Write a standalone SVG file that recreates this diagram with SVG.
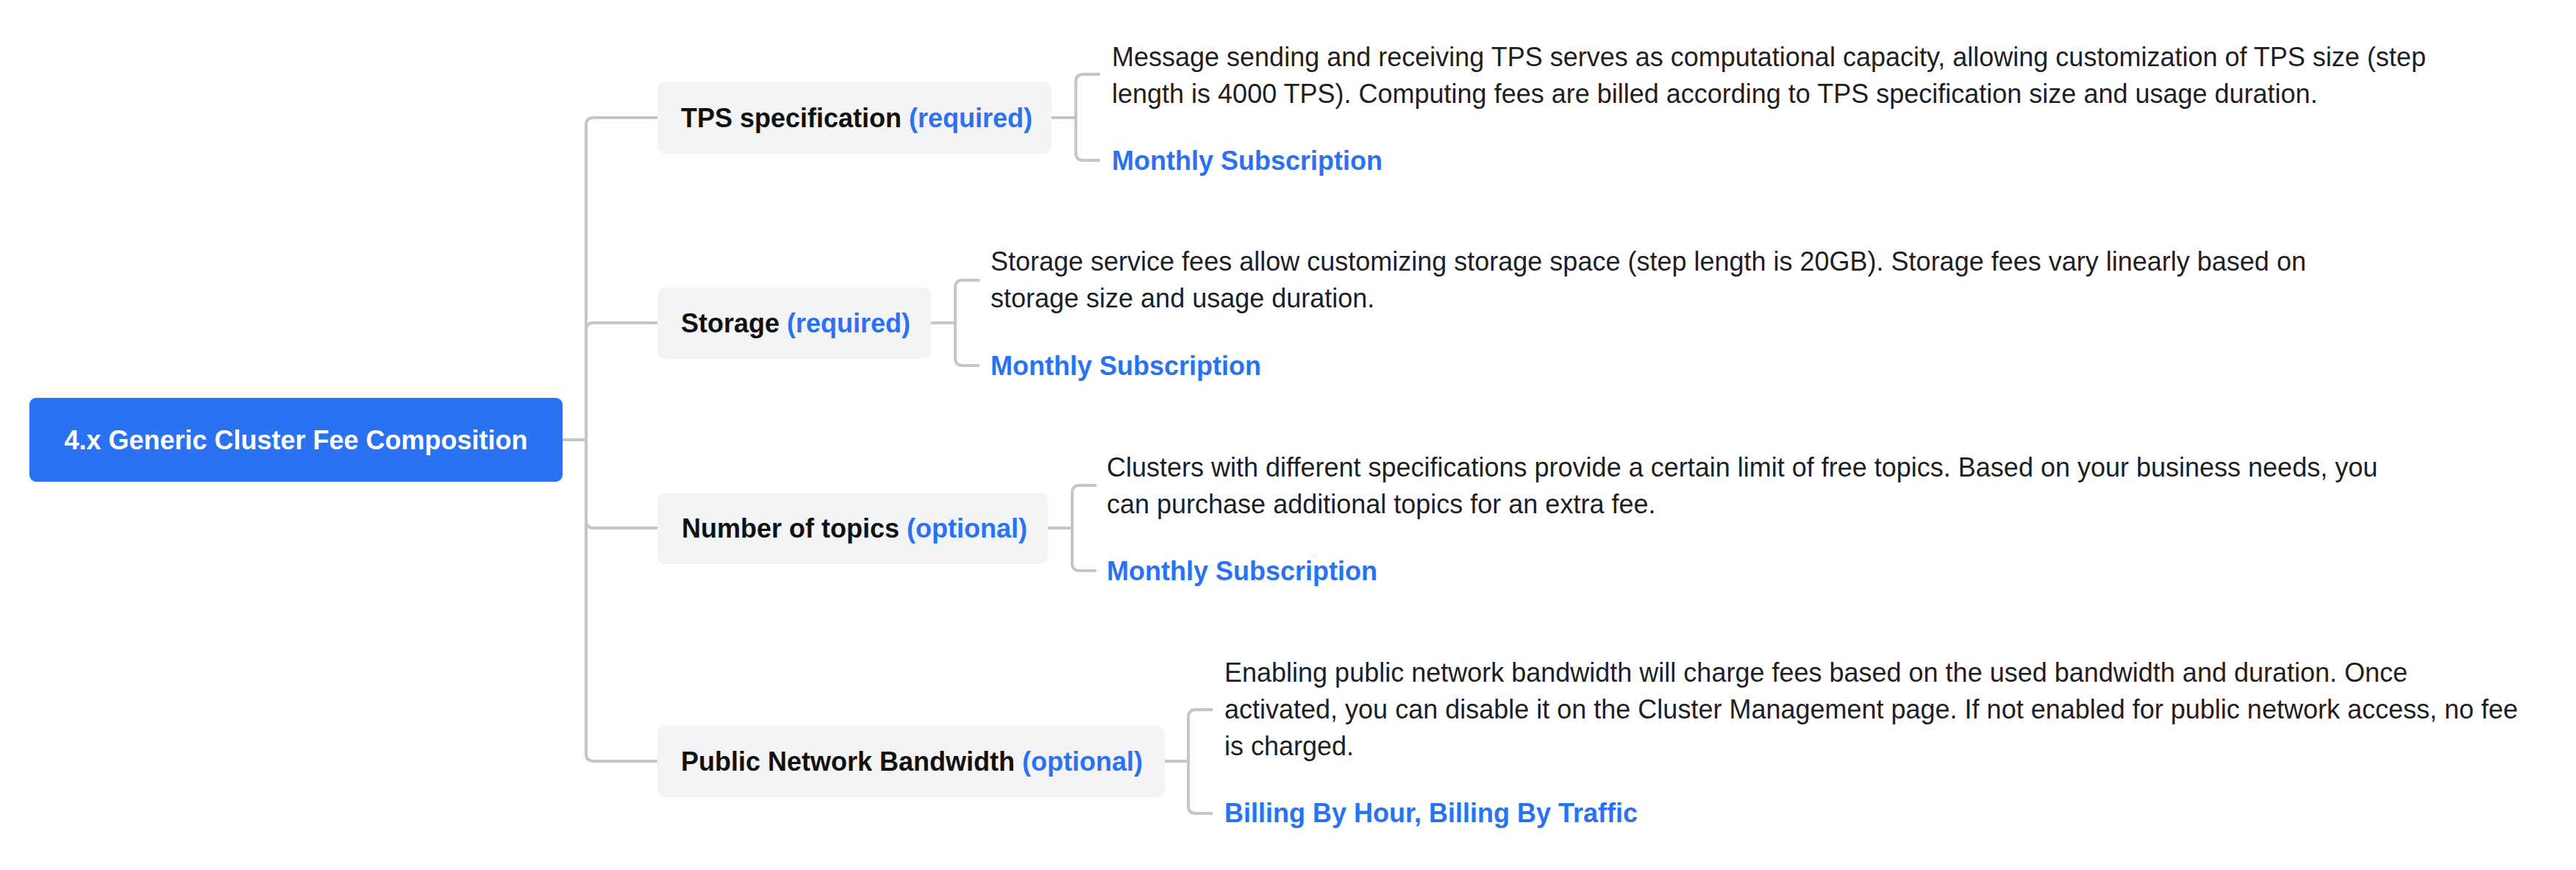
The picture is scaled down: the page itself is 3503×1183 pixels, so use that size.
<svg xmlns="http://www.w3.org/2000/svg" width="3503" height="1183" viewBox="0 0 3503 1183">
<style>
.conn{fill:none;stroke:#c6c6c6;stroke-width:4;stroke-linejoin:round}
.root{fill:#2b72f2}
.node{fill:#f3f4f6}
.rt{font-family:"Liberation Sans",Arial,Helvetica,sans-serif;font-size:36px;font-weight:bold;fill:#ffffff}
.lbl{font-family:"Liberation Sans",Arial,Helvetica,sans-serif;font-size:36px;font-weight:bold;fill:#111111}
.blue{fill:#2b72f2}
.desc{font-family:"Liberation Sans",Arial,Helvetica,sans-serif;font-size:36px;fill:#1f1f1f}
.bill{font-family:"Liberation Sans",Arial,Helvetica,sans-serif;font-size:36px;font-weight:bold;fill:#2b72f2}
</style>
<rect width="3503" height="1183" fill="#ffffff"/>
<g id="connectors">
<path class="conn" d="M765 598 H797 V170 Q797 160 807 160 H894"/>
<path class="conn" d="M765 598 H797 V449 Q797 439 807 439 H894"/>
<path class="conn" d="M765 598 H797 V708 Q797 718 807 718 H894"/>
<path class="conn" d="M765 598 H797 V1025 Q797 1035 807 1035 H894"/>
<path class="conn" d="M1430 160 H1463 V111 Q1463 101 1473 101 H1496"/>
<path class="conn" d="M1430 160 H1463 V208 Q1463 218 1473 218 H1496"/>
<path class="conn" d="M1266 439 H1299 V391 Q1299 381 1309 381 H1332"/>
<path class="conn" d="M1266 439 H1299 V487 Q1299 497 1309 497 H1332"/>
<path class="conn" d="M1425 718 H1458 V670 Q1458 660 1468 660 H1491"/>
<path class="conn" d="M1425 718 H1458 V766 Q1458 776 1468 776 H1491"/>
<path class="conn" d="M1584 1035 H1616 V975 Q1616 965 1626 965 H1649"/>
<path class="conn" d="M1584 1035 H1616 V1096 Q1616 1106 1626 1106 H1649"/>
</g>
<g id="root">
<rect class="root" x="40" y="541" width="725" height="114" rx="9"/>
<text class="rt" x="402.5" y="611" text-anchor="middle">4.x Generic Cluster Fee Composition</text>
</g>
<g id="tps">
<rect class="node" x="894" y="111" width="536" height="98" rx="10"/>
<text class="lbl" x="926" y="173">TPS specification <tspan class="blue">(required)</tspan></text>
</g>
<g id="tps-desc">
<text class="desc" x="1512" y="90">Message sending and receiving TPS serves as computational capacity, allowing customization of TPS size (step</text>
<text class="desc" x="1512" y="140">length is 4000 TPS). Computing fees are billed according to TPS specification size and usage duration.</text>
</g>
<g id="tps-billing">
<text class="bill" x="1512" y="231">Monthly Subscription</text>
</g>
<g id="storage">
<rect class="node" x="894" y="391" width="372" height="97" rx="10"/>
<text class="lbl" x="926" y="452">Storage <tspan class="blue">(required)</tspan></text>
</g>
<g id="storage-desc">
<text class="desc" x="1347" y="368">Storage service fees allow customizing storage space (step length is 20GB). Storage fees vary linearly based on</text>
<text class="desc" x="1347" y="418">storage size and usage duration.</text>
</g>
<g id="storage-billing">
<text class="bill" x="1347" y="510">Monthly Subscription</text>
</g>
<g id="topics">
<rect class="node" x="894" y="670" width="531" height="97" rx="10"/>
<text class="lbl" x="927" y="731">Number of topics <tspan class="blue">(optional)</tspan></text>
</g>
<g id="topics-desc">
<text class="desc" x="1505" y="648">Clusters with different specifications provide a certain limit of free topics. Based on your business needs, you</text>
<text class="desc" x="1505" y="698">can purchase additional topics for an extra fee.</text>
</g>
<g id="topics-billing">
<text class="bill" x="1505" y="789">Monthly Subscription</text>
</g>
<g id="bandwidth">
<rect class="node" x="894" y="987" width="690" height="97" rx="10"/>
<text class="lbl" x="926" y="1048">Public Network Bandwidth <tspan class="blue">(optional)</tspan></text>
</g>
<g id="bandwidth-desc">
<text class="desc" x="1665" y="927">Enabling public network bandwidth will charge fees based on the used bandwidth and duration. Once</text>
<text class="desc" x="1665" y="977">activated, you can disable it on the Cluster Management page. If not enabled for public network access, no fee</text>
<text class="desc" x="1665" y="1027">is charged.</text>
</g>
<g id="bandwidth-billing">
<text class="bill" x="1665" y="1118">Billing By Hour, Billing By Traffic</text>
</g>
</svg>
